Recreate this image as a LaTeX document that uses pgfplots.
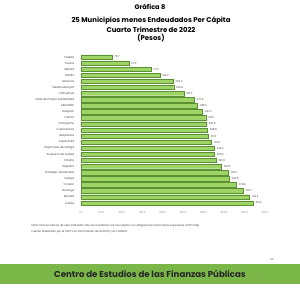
\documentclass[border=0pt]{standalone}
\usepackage{pgfplots}
\pgfplotsset{compat=1.18}
\usepackage{fontspec}
\setmainfont{Poppins}
\definecolor{barfill}{RGB}{158,211,102}
\definecolor{bardraw}{RGB}{90,145,50}
\definecolor{band}{RGB}{122,182,72}
\definecolor{txt}{RGB}{64,64,64}
\begin{document}
\begin{tikzpicture}
\path[use as bounding box] (0pt,0pt) rectangle (300pt,300pt);
\fill[white] (0pt,0pt) rectangle (300pt,300pt);
\node[font=\fontsize{6.6}{7}\selectfont\bfseries] at (150pt,292.7pt) {Gráfica 8};
\node[font=\fontsize{6.9}{7}\selectfont\bfseries] at (151pt,279.3pt) {25 Municipios menos Endeudados Per Cápita};
\node[font=\fontsize{6.9}{7}\selectfont\bfseries] at (151pt,270.7pt) {Cuarto Trimestre de 2022};
\node[font=\fontsize{6.9}{7}\selectfont\bfseries] at (151pt,262.3pt) {(Pesos)};
\begin{axis}[
  at={(81pt,94pt)}, anchor=south west,
  scale only axis, width=184pt, height=152pt,
  xmin=0, xmax=450, ymin=0.5, ymax=25.5,
  y dir=reverse,
  xbar, bar width=4.4pt,
  axis line style={draw=none}, tick style={draw=none},
  xtick={0,50,...,450},
  xticklabel={\pgfmathprintnumber[fixed,fixed zerofill,precision=1]{\tick}},
  xticklabel style={font=\fontsize{2.6}{3}\selectfont, text=gray, yshift=-2pt},
  ytick={1,...,25},
  yticklabels={Puebla,Toluca,Mérida,Saltillo,Veracruz,Nezahualcóyotl,Chihuahua,Valle de Chalco Solidaridad,Mazatlán,Uruapan,Centro,Campeche,Cuernavaca,Ixtapaluca,Tapachula,Tlajomulco de Zúñiga,Acapulco de Juárez,Chalco,Irapuato,Ecatepec de Morelos,Celaya,Torreón,Durango,Morelia,Juárez},
  yticklabel style={font=\fontsize{2.8}{3}\selectfont, text=txt, xshift=1pt},
  /pgf/number format/assume math mode=true,
  nodes near coords,
  nodes near coords style={font=\fontsize{2.6}{3}\selectfont, text=txt, xshift=-1pt,
    /pgf/number format/.cd, fixed, fixed zerofill, precision=1},
  clip=false,
]
\addplot[fill=barfill, draw=bardraw, line width=0.35pt] coordinates {
(75.7,1) (117.0,2) (171.3,3) (193.2,4) (225.2,5) (226.8,6) (251.5,7) (277.5,8)
(285.0,9) (297.2,10) (305.1,11) (305.8,12) (308.8,13) (311.5,14) (319.2,15)
(326.2,16) (325.9,17) (330.0,18) (343.5,19) (361.0,20) (362.5,21) (379.8,22)
(397.1,23) (412.4,24) (421.2,25)};
\end{axis}
\node[anchor=west, font=\fontsize{2.7}{3}\selectfont, text=txt] at (28pt,74pt) {Nota: Para el cálculo de este indicador sólo se consideran los municipios con obligaciones financieras superiores a 100 mdp.};
\node[anchor=west, font=\fontsize{2.7}{3}\selectfont, text=txt] at (28pt,68pt) {Fuente: Elaborado por el CEFP con información de la SHCP y el CONAPO.};
\fill[band] (0pt,16pt) rectangle (300pt,36pt);
\node[font=\fontsize{8.6}{9}\selectfont\bfseries, text=black!85] at (150pt,26.5pt) {Centro de Estudios de las Finanzas Públicas};
\node[font=\fontsize{2.6}{3}\selectfont, text=txt] at (272pt,40pt) {20};
\end{tikzpicture}
\end{document}
